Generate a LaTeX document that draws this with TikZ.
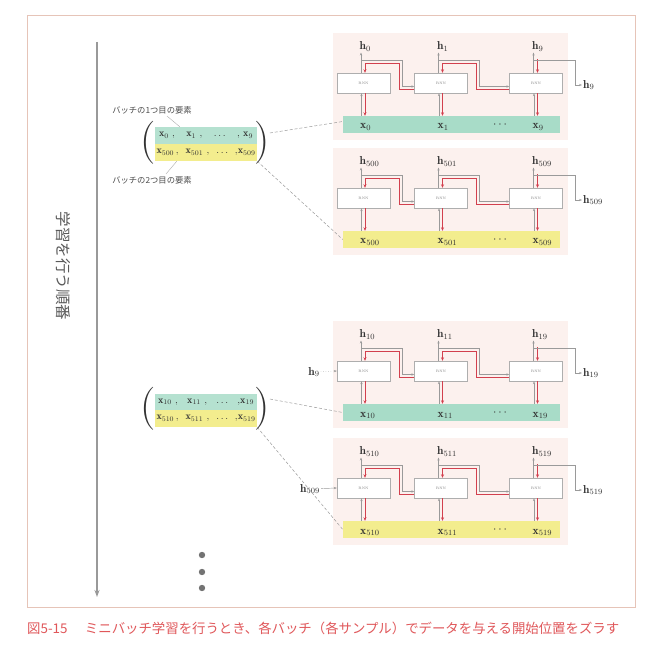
\documentclass[tikz,border=0pt]{standalone}
\usepackage{fontspec}
\newfontfamily\jp{Noto Sans CJK JP}
\usetikzlibrary{arrows.meta,calc}
\definecolor{gbar}{HTML}{A8DCC8}
\definecolor{ybar}{HTML}{F3ED8E}
\definecolor{pbg}{HTML}{FCF1EE}
\definecolor{redl}{HTML}{D2404E}
\definecolor{greyl}{HTML}{9A9A9A}
\definecolor{framec}{HTML}{E6C4B8}
\definecolor{capc}{HTML}{E0575A}
\definecolor{txt}{HTML}{333333}
\tikzset{
 rnnbox/.style={draw=greyl!80, line width=0.4pt, fill=white, minimum width=53pt, minimum height=20pt, inner sep=0pt, font=\fontsize{3.5}{4}\selectfont, text=gray},
 hlab/.style={inner sep=1pt, text=txt, font=\fontsize{11.5}{13}\selectfont},
 barbox/.style={minimum width=217pt, minimum height=17pt, inner sep=0pt},
 rowbox/.style={minimum width=102pt, minimum height=17pt, inner sep=0pt, text=txt, font=\fontsize{10}{11}\selectfont},
 gl/.style={draw=greyl, line width=0.45pt},
 rl/.style={draw=redl, line width=0.9pt},
 tipg/.style={-{Stealth[length=3pt,width=2.2pt]}},
 tipr/.style={-{Stealth[length=3.5pt,width=3pt]}},
 dashl/.style={draw=greyl, line width=0.5pt, dash pattern=on 3pt off 2pt},
 ptr/.style={draw=greyl!80, line width=0.4pt},
 paren/.style={inner sep=0pt, text=txt, font=\fontsize{43}{43}\selectfont},
 jlab/.style={inner sep=0pt, text=black!70, font=\jp\fontsize{8.3}{9}\selectfont},
 dotc/.style={circle, fill=black!55, minimum size=6.4pt, inner sep=0pt},
}
\newcommand\rnnpanel[6]{%
\begin{scope}[shift={(0,#2)}]
\fill[pbg] (333,33) rectangle (568,140);
\node[barbox,fill=#3] (#1bar) at (451.5,124.5) {};
\node[rnnbox] (#1b1) at (363.5,83) {RNN};
\node[rnnbox] (#1b2) at (441,83) {RNN};
\node[rnnbox] (#1b3) at (536,83) {RNN};
\node[hlab,anchor=base west] (#1h1) at (358.5,49.5) {$\mathbf{h}_{#4}$};
\node[hlab,anchor=base west] (#1h2) at (436,49.5) {$\mathbf{h}_{#5}$};
\node[hlab,anchor=base west] (#1h3) at (531,49.5) {$\mathbf{h}_{#6}$};
\node[hlab,anchor=base west] (#1x1) at (359,129) {$\mathbf{x}_{#4}$};
\node[hlab,anchor=base west] (#1x2) at (436.5,129) {$\mathbf{x}_{#5}$};
\node[hlab,anchor=base west] (#1x3) at (531.5,129) {$\mathbf{x}_{#6}$};
\node[hlab] (#1dots) at (500,125) {$\cdots$};
\node[hlab,anchor=west] (#1out) at (582,85) {$\mathbf{h}_{#6}$};
\foreach \i in {1,2,3}{
  \draw[gl,tipg] ([xshift=-2.5pt]#1b\i.north) -- ([xshift=-2.5pt]#1b\i.north |- #1h\i.south);
  \draw[gl,tipg] ([xshift=-2pt]#1b\i.south |- #1bar.north) -- ([xshift=-2pt]#1b\i.south);
  \draw[rl,tipr] ([xshift=1.5pt]#1b\i.south) -- ([xshift=1.5pt]#1b\i.south |- #1bar.north);
}
\draw[gl,tipg] ($(#1b1.north)+(-2.5,-12.5)$) -| (402.5,86.5) -- ($(#1b2.west)+(0,3.5)$);
\draw[rl,tipr] ($(#1b2.west)+(0,6.5)$) -| (399.5,63.5) -| ([xshift=1.5pt]#1b1.north);
\draw[gl,tipg] ($(#1b2.north)+(-2.5,-12.5)$) -| (479.5,86.5) -- ($(#1b3.west)+(0,3.5)$);
\draw[rl,tipr] ($(#1b3.west)+(0,6.5)$) -| (476.5,63.5) -| ([xshift=1.5pt]#1b2.north);
\draw[rl,tipr] ($(#1b3.north)+(1.5,-14)$) -- ([xshift=1.5pt]#1b3.north);
\draw[gl,tipg] ($(#1b3.north)+(-2.5,-12.5)$) -| ($(#1out.west)+(-7,0)$) -- (#1out.west);
\end{scope}}
\begin{document}
\begin{tikzpicture}[x=1pt,y=-1pt]
\fill[white] (0,0) rectangle (667,655);
\useasboundingbox (0,0) rectangle (667,655);
\draw[framec, line width=0.9pt] (27,15) rectangle (635,607);
% order axis
\coordinate (vt) at (97,42);
\coordinate (vb) at (97,597);
\draw[draw=black!40, line width=1.4pt, -{Stealth[length=7pt,width=5pt]}] (vt) -- (vb);
\node[inner sep=0pt, rotate=-90, text=black!65, font=\jp\fontsize{15.5}{16}\selectfont] (order) at (63,266) {学習を行う順番};
% panels
\rnnpanel{a}{0}{gbar}{0}{1}{9}
\rnnpanel{b}{115}{ybar}{500}{501}{509}
\rnnpanel{c}{288}{gbar}{10}{11}{19}
\rnnpanel{d}{405}{ybar}{510}{511}{519}
\node[hlab] (cin) at (314,372) {$\mathbf{h}_{9}$};
\draw[gl,dotted,tipg] (cin) -- (cb1.west);
\node[hlab] (din) at (310,489) {$\mathbf{h}_{509}$};
\draw[gl,tipg] (din) -- (db1.west);
% group 1
\node[rowbox,fill=gbar!85] (g1a) at (206,135.5) {\makebox[94pt]{$\mathbf{x}_{0}$\ ,\hfill$\mathbf{x}_{1}$\ ,\hfill$\dots$\hfill,\ $\mathbf{x}_{9}$}};
\node[rowbox,fill=ybar] (g1b) at (206,152.5) {\makebox[99pt]{$\mathbf{x}_{500}$\,,\hfill$\mathbf{x}_{501}$\ ,\hfill$\dots$\hfill,$\mathbf{x}_{509}$}};
\node[paren] (g1l) at (148,143) {(};
\node[paren] (g1r) at (262,143) {)};
\node[jlab] (l1) at (152,110) {バッチの1つ目の要素};
\node[jlab] (l2) at (152,180) {バッチの2つ目の要素};
\draw[ptr] ($(l1.south)+(15,2)$) -- ($(g1a.north west)+(25,0)$);
\draw[ptr] ($(g1b.south west)+(22,0)$) -- ($(l2.north)+(14,-2)$);
\draw[dashl] ($(g1r.east)+(0,-10)$) -- ($(abar.west)+(0,-3)$);
\draw[dashl] (g1b.south east) -- (bbar.west);
% group 2
\node[rowbox,fill=gbar!85] (g2a) at (206,402) {\makebox[96pt]{$\mathbf{x}_{10}$\ ,\hfill$\mathbf{x}_{11}$\ ,\hfill$\dots$\hfill,$\mathbf{x}_{19}$}};
\node[rowbox,fill=ybar] (g2b) at (206,418.5) {\makebox[99pt]{$\mathbf{x}_{510}$\,,\hfill$\mathbf{x}_{511}$\ ,\hfill$\dots$\hfill,$\mathbf{x}_{519}$}};
\node[paren] (g2l) at (148,409) {(};
\node[paren] (g2r) at (262,409) {)};
\draw[dashl] ($(g2r.east)+(0,-10)$) -- ($(cbar.west)+(0,0)$);
\draw[dashl] (g2b.south east) -- (dbar.west);
% dots
\node[dotc] (d1) at (202,555) {};
\node[dotc] (d2) at (202,572) {};
\node[dotc] (d3) at (202,588) {};
% caption
\node[anchor=west, inner sep=0pt, text=capc, font=\jp\fontsize{13.4}{14}\selectfont] (cap) at (27,628) {図5-15\hspace{1.3em}ミニバッチ学習を行うとき、各バッチ（各サンプル）でデータを与える開始位置をズラす};
\end{tikzpicture}
\end{document}
